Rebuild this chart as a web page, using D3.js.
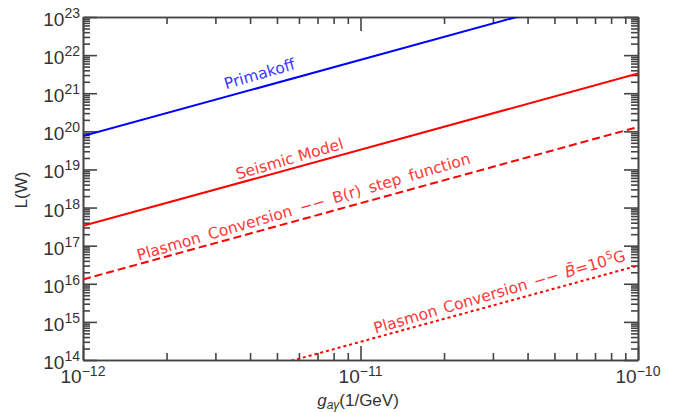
<!DOCTYPE html>
<html lang="en">
<head>
<meta charset="UTF-8">
<title>Luminosity vs coupling</title>
<script src="https://d3js.org/d3.v7.min.js"></script>
<style>
  body { margin: 0; background: #fff; }
  svg text { font-family: "Liberation Sans Narrow", "Liberation Sans", "DejaVu Sans", sans-serif; }
  .lbl { font-family: "DejaVu Sans", sans-serif; font-size: 15.5px; }
</style>
</head>
<body>
<svg width="678" height="413"></svg>
<script>
// coupling endpoints (1/GeV)
const gValues = [1e-12, 1e-10]
// luminosity (W) at the two endpoints
const primakoff = [7.5e19, 7.5e23]
const seismic = [3.3e17, 3.3e21]
const plasmonStep = [1.3e16, 1.3e20]
const plasmonMean = [3e12, 3e16]

const xTickExp = [-12, -11, -10]
const yTickExp = [14, 15, 16, 17, 18, 19, 20, 21, 22, 23]

const margin = {left: 83, right: 40, top: 17, bottom: 53}
const width = 678, height = 413
const svg = d3.select("svg")

const x = d3.scaleLog().domain([1e-12, 1e-10]).range([margin.left, width - margin.right])
const y = d3.scaleLog().domain([1e14, 1e23]).range([height - margin.bottom, margin.top])

svg.append("clipPath").attr("id", "plot")
  .append("rect")
  .attr("x", margin.left).attr("y", margin.top)
  .attr("width", width - margin.left - margin.right)
  .attr("height", height - margin.top - margin.bottom)

// minor tick positions
let xMinor = [], yMinor = []
for (let e = -12; e < -10; e++) for (let k = 2; k < 10; k++) xMinor.push(k * Math.pow(10, e))
for (let e = 14; e < 23; e++) for (let k = 2; k < 10; k++) yMinor.push(k * Math.pow(10, e))

const axisCol = "#444"
function drawAxis(gen, tx, ty) {
  let g = svg.append("g").attr("transform", `translate(${tx},${ty})`).call(gen)
  g.selectAll("path,line").attr("stroke", axisCol).attr("stroke-width", 1.6)
  g.selectAll("text").remove()
  return g
}
const pL = margin.left, pR = width - margin.right, pT = margin.top, pB = height - margin.bottom
const xMaj = xTickExp.map(e => Math.pow(10, e)), yMaj = yTickExp.map(e => Math.pow(10, e))

drawAxis(d3.axisBottom(x).tickValues(xMaj).tickSizeInner(-14).tickSizeOuter(0), 0, pB)
drawAxis(d3.axisBottom(x).tickValues(xMinor).tickSizeInner(-7).tickSizeOuter(0), 0, pB)
drawAxis(d3.axisTop(x).tickValues(xMaj).tickSizeInner(-14).tickSizeOuter(0), 0, pT)
drawAxis(d3.axisTop(x).tickValues(xMinor).tickSizeInner(-7).tickSizeOuter(0), 0, pT)
drawAxis(d3.axisLeft(y).tickValues(yMaj).tickSizeInner(-14).tickSizeOuter(0), pL, 0)
drawAxis(d3.axisLeft(y).tickValues(yMinor).tickSizeInner(-7).tickSizeOuter(0), pL, 0)
drawAxis(d3.axisRight(y).tickValues(yMaj).tickSizeInner(-14).tickSizeOuter(0), pR, 0)
drawAxis(d3.axisRight(y).tickValues(yMinor).tickSizeInner(-7).tickSizeOuter(0), pR, 0)

// tick labels
const tickCol = "#333"
xTickExp.forEach(e => {
  let t = svg.append("text").attr("x", x(Math.pow(10, e))).attr("y", pB + 23)
    .attr("text-anchor", "middle").attr("fill", tickCol).attr("font-size", 19)
  t.append("tspan").text("10")
  t.append("tspan").attr("dy", -7).attr("font-size", 14).text("\u2212" + (-e))
})
yTickExp.forEach(e => {
  let t = svg.append("text").attr("x", pL - 3).attr("y", y(Math.pow(10, e)) + 9)
    .attr("text-anchor", "end").attr("fill", tickCol).attr("font-size", 19)
  t.append("tspan").text("10")
  t.append("tspan").attr("dy", -8).attr("font-size", 14).text(e)
})

// axis titles
let xt = svg.append("text").attr("x", 358).attr("y", 406).attr("text-anchor", "middle")
  .attr("fill", tickCol).attr("font-size", 17)
xt.append("tspan").attr("font-style", "italic").text("g")
xt.append("tspan").attr("dy", 3).attr("font-size", 12).attr("font-style", "italic").text("a\u03b3")
xt.append("tspan").attr("dy", -3).text("(1/GeV)")

svg.append("text").attr("transform", "translate(27,190) rotate(-90)")
  .attr("text-anchor", "middle").attr("fill", tickCol).attr("font-size", 17).text("L(W)")

// curves
const series = [
  {vals: primakoff, color: "#0000ff", dash: null},
  {vals: seismic, color: "#ff0000", dash: null},
  {vals: plasmonStep, color: "#ff0000", dash: "8,4"},
  {vals: plasmonMean, color: "#ff0000", dash: "3,3"}
]
const line = d3.line().x(d => x(d[0])).y(d => y(d[1]))
const plot = svg.append("g").attr("clip-path", "url(#plot)")
series.forEach(s => {
  plot.append("path").datum(gValues.map((g, i) => [g, s.vals[i]]))
    .attr("d", line).attr("fill", "none")
    .attr("stroke", s.color).attr("stroke-width", 2)
    .attr("stroke-dasharray", s.dash)
})

// curve labels
const labels = [
  {text: "Primakoff", x: 261, y: 79, color: "#3838ff", ws: 0},
  {text: "Seismic Model", x: 291, y: 164, color: "#ff3838", ws: 0},
  {text: "Plasmon Conversion \u2212\u2212 B(r) step function", x: 305, y: 212, color: "#ff3838", ws: 3.5},
]
labels.forEach(l => {
  svg.append("text").attr("class", "lbl")
    .attr("transform", `translate(${l.x},${l.y}) rotate(-16.3)`)
    .attr("word-spacing", l.ws)
    .attr("text-anchor", "middle").attr("fill", l.color).text(l.text)
})
let lb = svg.append("text").attr("class", "lbl")
  .attr("transform", "translate(501,297) rotate(-16.3)")
  .attr("word-spacing", 2)
  .attr("text-anchor", "middle").attr("fill", "#ff3838")
lb.append("tspan").text("Plasmon Conversion \u2212\u2212 ")
lb.append("tspan").attr("font-style", "italic").text("B\u0304")
lb.append("tspan").text("=10")
lb.append("tspan").attr("dy", -6).attr("font-size", 11).text("5")
lb.append("tspan").attr("dy", 6).text("G")
</script>
</body>
</html>
